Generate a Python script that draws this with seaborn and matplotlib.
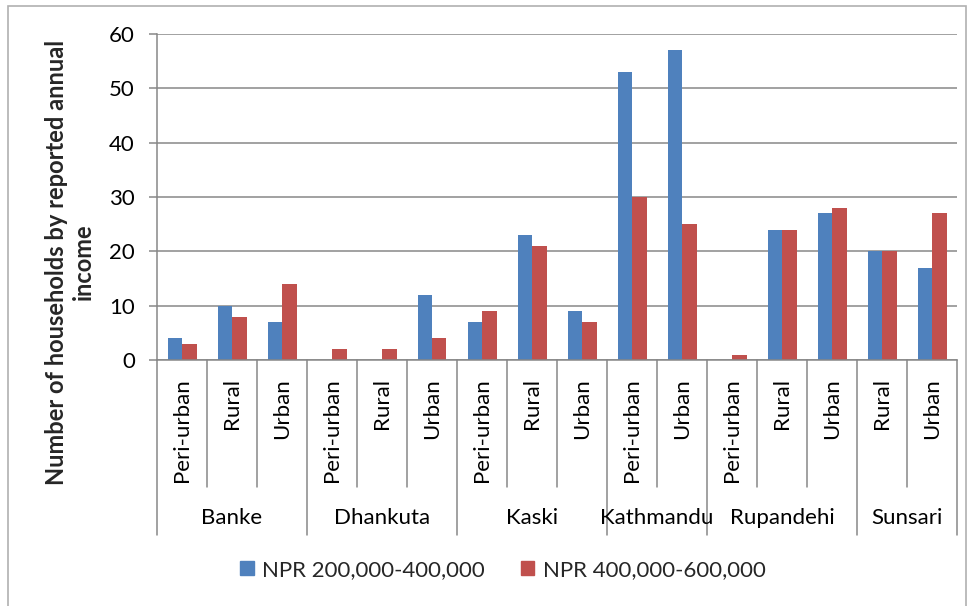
import matplotlib
matplotlib.use("Agg")
import matplotlib.pyplot as plt
import matplotlib.patches as mpatches
import matplotlib.transforms as mtransforms
import numpy as np
import pandas as pd
import seaborn as sns

# Districts and their settlement types, in display order
districts = ["Banke", "Dhankuta", "Kaski", "Kathmandu", "Rupandehi", "Sunsari"]
settlements = [
    ["Peri-urban", "Rural", "Urban"],
    ["Peri-urban", "Rural", "Urban"],
    ["Peri-urban", "Rural", "Urban"],
    ["Peri-urban", "Urban"],
    ["Peri-urban", "Rural", "Urban"],
    ["Rural", "Urban"],
]

series_names = ["NPR 200,000-400,000", "NPR 400,000-600,000"]
income_200_400 = [4, 10, 7, 0, 0, 12, 7, 23, 9, 53, 57, 0, 24, 27, 20, 17]
income_400_600 = [3, 8, 14, 2, 2, 4, 9, 21, 7, 30, 25, 1, 24, 28, 20, 27]

y_ticks = [0, 10, 20, 30, 40, 50, 60]
y_label = "Number of households by reported annual\nincome"

colors = ["#4F81BD", "#C0504D"]
grid_color = "#878787"

# Long-format table for seaborn
keys, sub_labels = [], []
for g, subs in zip(districts, settlements):
    for s in subs:
        keys.append(f"{g}|{s}")
        sub_labels.append(s)

df = pd.DataFrame({
    "key": keys * 2,
    "series": [series_names[0]] * len(keys) + [series_names[1]] * len(keys),
    "value": income_200_400 + income_400_600,
})

sns.set_theme(style="white")
plt.rcParams["font.family"] = ["Lato", "DejaVu Sans"]

W, H = 972, 606
fig = plt.figure(figsize=(W / 100, H / 100), dpi=100)
ax = fig.add_axes([157 / W, 1 - 360 / H, 800 / W, 326 / H])

sns.barplot(data=df, x="key", y="value", hue="series", order=keys,
            hue_order=series_names, palette=colors, width=0.58, gap=0,
            linewidth=0, saturation=1, ax=ax, legend=False, errorbar=None)

n = len(keys)
ax.set_xlim(-0.5, n - 0.5)
ax.set_ylim(0, 60)
ax.set_yticks(y_ticks)
ax.set_yticklabels([str(t) for t in y_ticks], fontsize=16, color="#000000")
ax.set_xticks([])
ax.set_xlabel("")
ax.set_ylabel("")
ax.grid(axis="y", color=grid_color, linewidth=1.1)
ax.set_axisbelow(True)
for side in ["top", "right"]:
    ax.spines[side].set_visible(False)
for side in ["left", "bottom"]:
    ax.spines[side].set_color(grid_color)
    ax.spines[side].set_linewidth(1.1)
ax.tick_params(axis="y", length=6, width=1.1, color=grid_color, pad=10, left=True)

# Two-level category axis below the plot
trans = mtransforms.blended_transform_factory(ax.transData, ax.transAxes)
sub_bottom = (360 - 487) / 326
grp_bottom = (360 - 535) / 326
for i, s in enumerate(sub_labels):
    ax.text(i, -0.055, s, transform=trans, rotation=90, ha="center", va="top",
            fontsize=16, color="#000000")

start = 0
for g, subs in zip(districts, settlements):
    end = start + len(subs)
    ax.text((start + end - 1) / 2, (360 - 518) / 326, g, transform=trans,
            ha="center", va="center", fontsize=16, color="#000000")
    for b in range(start + 1, end):
        ax.plot([b - 0.5, b - 0.5], [0, sub_bottom], transform=trans,
                color=grid_color, lw=1.1, clip_on=False)
    ax.plot([end - 0.5, end - 0.5], [0, grp_bottom], transform=trans,
            color=grid_color, lw=1.1, clip_on=False)
    start = end
ax.plot([-0.5, -0.5], [0, grp_bottom], transform=trans,
        color=grid_color, lw=1.1, clip_on=False)

fig.text(70 / W, 1 - 262 / H, y_label, rotation=90, ha="center", va="center",
         fontsize=17, fontweight="bold", multialignment="center", linespacing=1.2)

handles = [mpatches.Patch(color=c, label=l) for c, l in zip(colors, series_names)]
fig.legend(handles=handles, loc="center", bbox_to_anchor=(503 / W, 1 - 570 / H),
           ncol=2, frameon=False, fontsize=16, handlelength=0.6, handleheight=0.6,
           handletextpad=0.4, columnspacing=1.6)

# Chart border
fig.patches.append(mpatches.Rectangle((8 / W, -0.01), 958 / W, 1 - 6 / H + 0.01,
                                      transform=fig.transFigure, fill=False,
                                      edgecolor="#B0B0B0", linewidth=1.2))

fig.savefig("out.png", dpi=100)
